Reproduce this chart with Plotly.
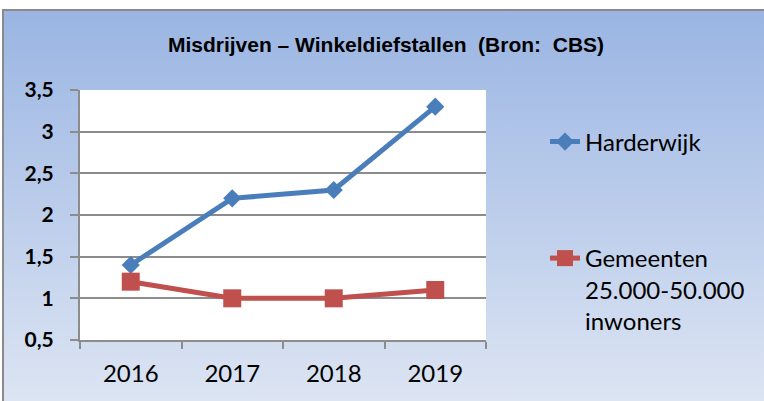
import base64
import plotly.graph_objects as go

# ---- data ----
years = ["2016", "2017", "2018", "2019"]
harderwijk = [1.4, 2.2, 2.3, 3.3]
gemeenten = [1.2, 1.0, 1.0, 1.1]
series_names = ["Harderwijk", "Gemeenten<br>25.000-50.000<br>inwoners"]
ytick_vals = [0.5, 1, 1.5, 2, 2.5, 3, 3.5]
ytick_text = ["0,5", "1", "1,5", "2", "2,5", "3", "3,5"]
title_text = "Misdrijven – Winkeldiefstallen  (Bron:  CBS)"

# ---- layout geometry (pixels) ----
W, H = 764, 401
L, R, T, B = 80, 486, 90, 340
pw, ph = R - L, B - T


def px_x(x):
    return (x - L) / pw


def px_y(y):
    return (B - y) / ph


grad_svg = (
    '<svg xmlns="http://www.w3.org/2000/svg" width="100" height="100" '
    'viewBox="0 0 100 100" preserveAspectRatio="none">'
    '<defs><linearGradient id="g" x1="0" y1="0" x2="0" y2="1">'
    '<stop offset="0" stop-color="#9AB5E3"/>'
    '<stop offset="1" stop-color="#DDE5F3"/>'
    '</linearGradient></defs>'
    '<rect width="100" height="100" fill="url(#g)"/></svg>'
)
grad_uri = "data:image/svg+xml;base64," + base64.b64encode(grad_svg.encode()).decode()

blue = "#4A7EBB"
red = "#C0504D"
grid = "#8C8C8C"

fig = go.Figure()
fig.add_trace(go.Scatter(
    x=years, y=harderwijk, name=series_names[0], mode="lines+markers",
    line=dict(color=blue, width=5),
    marker=dict(symbol="diamond", size=14, color=blue),
    legend="legend",
))
fig.add_trace(go.Scatter(
    x=years, y=gemeenten, name=series_names[1], mode="lines+markers",
    line=dict(color=red, width=5),
    marker=dict(symbol="square", size=18, color=red),
    legend="legend2",
))

legend_font = dict(family="Lato", size=24, color="black")

fig.update_layout(
    width=W, height=H,
    margin=dict(l=L, r=W - R, t=T, b=H - B, pad=0),
    paper_bgcolor="white",
    plot_bgcolor="rgba(0,0,0,0)",
    separators=",.",
    title=dict(
        text=title_text, x=386 / W, xref="container", xanchor="center",
        y=1 - 45 / H, yref="container", yanchor="middle",
        font=dict(family="Liberation Sans", size=21, color="black", weight="bold"),
    ),
    xaxis=dict(
        type="category", range=[-0.5, 3.5], showgrid=False,
        showline=True, linecolor=grid, linewidth=2,
        ticks="outside", tickson="boundaries", ticklen=7, tickwidth=2, tickcolor=grid,
        tickfont=dict(family="Lato", size=24, color="black"),
        ticklabelstandoff=11, fixedrange=True,
    ),
    yaxis=dict(
        range=[0.5, 3.5], tickvals=ytick_vals, ticktext=ytick_text,
        showgrid=True, gridcolor=grid, gridwidth=2, zeroline=False,
        showline=True, linecolor=grid, linewidth=2,
        ticks="outside", ticklen=8, tickwidth=2, tickcolor=grid,
        tickfont=dict(family="Lato", size=21, color="black", weight="bold"),
        ticklabelstandoff=12, fixedrange=True,
    ),
    legend=dict(
        x=px_x(545), y=px_y(142), xanchor="left", yanchor="middle",
        bgcolor="rgba(0,0,0,0)", font=legend_font, valign="top",
    ),
    legend2=dict(
        x=px_x(545), y=px_y(236), xanchor="left", yanchor="top",
        bgcolor="rgba(0,0,0,0)", font=legend_font, valign="top",
    ),
    showlegend=True,
    images=[dict(
        source=grad_uri, xref="paper", yref="paper",
        x=px_x(3), y=px_y(10), sizex=(790 - 3) / pw, sizey=(405 - 10) / ph,
        xanchor="left", yanchor="top", sizing="stretch", layer="below",
    )],
    shapes=[
        dict(type="rect", xref="paper", yref="paper", x0=0, x1=1, y0=0, y1=1,
             fillcolor="white", line=dict(width=0), layer="below"),
        dict(type="rect", xref="paper", yref="paper",
             x0=px_x(3), x1=px_x(800), y0=px_y(10), y1=px_y(420),
             fillcolor="rgba(0,0,0,0)", line=dict(color="#8A8A8A", width=2), layer="above"),
    ],
)

fig.write_html(
    "out.html",
    config={"displayModeBar": False, "staticPlot": True},
    post_script="document.body.style.margin='0';document.body.style.overflow='hidden';",
)
